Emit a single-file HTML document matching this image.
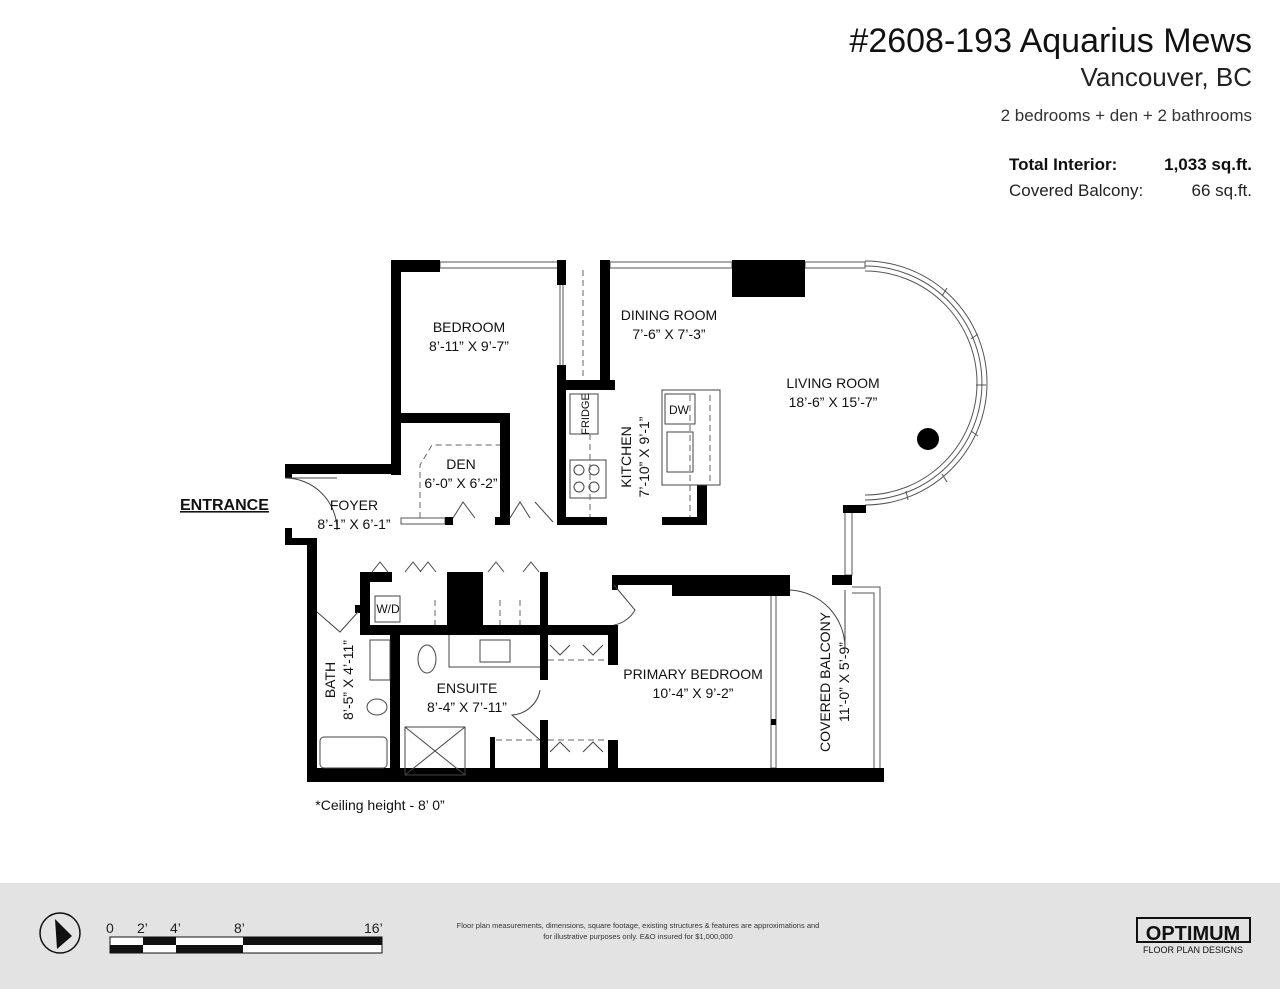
<!DOCTYPE html>
<html><head><meta charset="utf-8"><style>
html,body{margin:0;padding:0;background:#fff;}
svg{display:block;font-family:"Liberation Sans",sans-serif;}
</style></head><body>
<svg width="1280" height="989" viewBox="0 0 1280 989" xmlns="http://www.w3.org/2000/svg">
<rect width="1280" height="989" fill="#fff"/>
<!-- header -->
<g fill="#111" text-anchor="end">
<text x="1252" y="52" font-size="34">#2608-193 Aquarius Mews</text>
<text x="1252" y="86" font-size="26" fill="#222">Vancouver, BC</text>
<text x="1252" y="121" font-size="17" fill="#333">2 bedrooms + den + 2 bathrooms</text>
<text x="1252" y="170" font-size="17" font-weight="bold">1,033 sq.ft.</text>
<text x="1252" y="196" font-size="17" fill="#222">66 sq.ft.</text>
</g>
<text x="1009" y="170" font-size="17" font-weight="bold" fill="#111">Total Interior:</text>
<text x="1009" y="196" font-size="17" fill="#222">Covered Balcony:</text>

<!-- windows (thin double lines) -->
<g fill="none" stroke="#555" stroke-width="1">
<rect x="440" y="262" width="118" height="6"/>
<rect x="610" y="262" width="122" height="6"/>
<rect x="805" y="262" width="60" height="6"/>
<path d="M865,261 A122,122 0 0 1 865,505"/>
<path d="M865,266 A117,117 0 0 1 865,500"/>
<path d="M865,271 A112,112 0 0 1 865,495"/>
<rect x="845" y="512" width="7" height="63"/>
<path d="M852,587 H880 V770"/>
<path d="M852,593 H874 V770"/>
<rect x="771" y="595" width="5" height="173"/>
<rect x="401" y="518" width="44" height="6"/>
<path d="M560,285 V365 M563,285 V365"/>
</g>
<g stroke="#555" stroke-width="1">
<path d="M947,288 L942,296 M978,334 L971,339 M986,385 L976,385 M978,436 L971,431 M947,482 L942,474 M908,500 L906,491"/>
</g>
<!-- walls -->
<g fill="#000">
<rect x="391" y="260" width="49" height="12"/>
<rect x="391" y="260" width="10" height="215"/>
<rect x="285" y="464" width="116" height="10"/>
<rect x="285" y="464" width="7" height="14"/>
<rect x="285" y="528" width="7" height="17"/>
<rect x="285" y="538" width="32" height="7"/>
<rect x="307" y="538" width="10" height="244"/>
<rect x="307" y="768" width="577" height="14"/>
<rect x="401" y="413" width="109" height="10"/>
<rect x="500" y="413" width="10" height="112"/>
<rect x="445" y="517" width="8" height="8"/>
<rect x="495" y="517" width="15" height="8"/>
<rect x="557" y="260" width="9" height="25"/>
<rect x="557" y="365" width="9" height="160"/>
<rect x="600" y="260" width="10" height="130"/>
<rect x="557" y="380" width="58" height="10"/>
<rect x="557" y="517" width="50" height="8"/>
<rect x="732" y="260" width="73" height="37"/>
<rect x="662" y="517" width="45" height="8"/>
<rect x="697" y="485" width="10" height="40"/>
<rect x="843" y="505" width="23" height="8"/>
<rect x="832" y="575" width="20" height="10"/>
<rect x="360" y="572" width="32" height="10"/>
<rect x="360" y="572" width="10" height="63"/>
<rect x="447" y="572" width="36" height="56"/>
<rect x="360" y="625" width="258" height="10"/>
<rect x="540" y="572" width="8" height="63"/>
<rect x="612" y="575" width="178" height="10"/>
<rect x="672" y="575" width="118" height="21"/>
<rect x="612" y="575" width="6" height="15"/>
<rect x="608" y="625" width="10" height="40"/>
<rect x="608" y="740" width="10" height="30"/>
<rect x="390" y="635" width="10" height="147"/>
<rect x="540" y="635" width="8" height="45"/>
<rect x="540" y="720" width="8" height="62"/>
<rect x="490" y="737" width="5" height="35"/>
<rect x="355" y="605" width="5" height="8"/>
<circle cx="928" cy="439" r="11"/>
<rect x="771" y="719" width="5" height="6"/>
</g>
<!-- fixtures -->
<g fill="none" stroke="#444" stroke-width="1">
<rect x="662" y="390" width="58" height="95"/>
<rect x="665" y="394" width="30" height="30"/>
<rect x="667" y="432" width="26" height="40"/>
<rect x="570" y="394" width="28" height="40"/>
<rect x="570" y="460" width="36" height="38"/>
<circle cx="579" cy="470" r="5"/><circle cx="594" cy="470" r="5"/>
<circle cx="579" cy="487" r="5"/><circle cx="594" cy="487" r="5"/>
<rect x="375" y="596" width="25" height="26"/>
<rect x="370" y="640" width="20" height="40"/>
<rect x="480" y="640" width="30" height="22"/>
<rect x="405" y="727" width="60" height="48"/>
<path d="M405,727 L465,775 M465,727 L405,775"/>
<rect x="320" y="737" width="67" height="31" rx="4"/>
<ellipse cx="427" cy="659" rx="9" ry="14"/>
<ellipse cx="377" cy="707" rx="10" ry="8"/>
<path d="M449,635 V667 H540"/>
<path d="M285,478 A52,52 0 0 1 337,530"/>
<path d="M285,478 H337"/>
<path d="M845,590 V648 A58,58 0 0 0 790,590"/>
<path d="M540,690 A30,30 0 0 1 512,715 L540,740"/>
<path d="M614,585 L635,610 A30,30 0 0 1 614,625"/>
<path d="M317,612 L340,632 L358,612"/>
<path d="M453,518 L463,502 L475,518 M510,518 L520,502 L530,518 M535,502 L553,522"/>
<path d="M372,572 L380,562 L388,572 M405,572 L413,562 L421,572 M420,572 L428,562 L436,572 M488,572 L496,562 L504,572 M523,572 L531,562 L539,572"/>
<path d="M550,645 L560,655 L570,645 M583,645 L593,655 L603,645 M550,752 L560,742 L570,752 M583,752 L593,742 L603,752"/>
</g>
<g fill="none" stroke="#666" stroke-width="1" stroke-dasharray="6,4">
<path d="M583,270 V380 M590,434 V517 M690,395 V517 M710,395 V485 M420,518 V465 L432,445 H500 M548,660 H608 M548,740 H608 M496,740 H540 M435,600 V625 M520,600 V625 M500,600 V625"/>
</g>
<!-- labels -->
<g font-size="14" fill="#111" text-anchor="middle">
<text x="469" y="332">BEDROOM</text><text x="469" y="351">8’-11” X 9’-7”</text>
<text x="669" y="320">DINING ROOM</text><text x="669" y="339">7’-6” X 7’-3”</text>
<text x="833" y="388">LIVING ROOM</text><text x="833" y="407">18’-6” X 15’-7”</text>
<text x="461" y="469">DEN</text><text x="461" y="488">6’-0” X 6’-2”</text>
<text x="354" y="510">FOYER</text><text x="354" y="529">8’-1” X 6’-1”</text>
<text x="467" y="693">ENSUITE</text><text x="467" y="712">8’-4” X 7’-11”</text>
<text x="693" y="679">PRIMARY BEDROOM</text><text x="693" y="698">10’-4” X 9’-2”</text>
<text x="380" y="810">*Ceiling height - 8’ 0”</text>
<text x="679" y="414" font-size="12">DW</text>
<text x="388" y="613" font-size="12">W/D</text>
<text transform="translate(631,457) rotate(-90)">KITCHEN</text>
<text transform="translate(649,457) rotate(-90)">7’-10” X 9’-1”</text>
<text transform="translate(335,680) rotate(-90)">BATH</text>
<text transform="translate(353,680) rotate(-90)">8’-5” X 4’-11”</text>
<text transform="translate(830,682) rotate(-90)">COVERED BALCONY</text>
<text transform="translate(849,682) rotate(-90)">11’-0” X 5’-9”</text>
<text transform="translate(589,414) rotate(-90)" font-size="11">FRIDGE</text>
</g>
<text x="180" y="510" font-size="16" font-weight="bold" fill="#111" text-decoration="underline">ENTRANCE</text>
<!-- footer -->
<rect x="0" y="883" width="1280" height="106" fill="#e3e3e3"/>
<circle cx="60" cy="933" r="20" fill="none" stroke="#111" stroke-width="1.5"/>
<path d="M55,919 L72,936 L57,949 Z" fill="#111"/>
<g font-size="14" fill="#222">
<text x="106" y="933">0</text><text x="137" y="933">2’</text><text x="170" y="933">4’</text><text x="234" y="933">8’</text><text x="364" y="933">16’</text>
</g>
<rect x="110" y="937" width="272" height="16" fill="#fff" stroke="#111"/>
<rect x="143" y="937" width="33" height="8" fill="#111"/>
<rect x="243" y="937" width="139" height="8" fill="#111"/>
<rect x="110" y="945" width="33" height="8" fill="#111"/>
<rect x="176" y="945" width="67" height="8" fill="#111"/>
<g font-size="7.5" fill="#333" text-anchor="middle">
<text x="638" y="928">Floor plan measurements, dimensions, square footage, existing structures &amp; features are approximations and</text>
<text x="638" y="939">for illustrative purposes only.  E&amp;O insured for $1,000,000</text>
</g>
<rect x="1137" y="918" width="113" height="24" fill="none" stroke="#111" stroke-width="2"/>
<text x="1193" y="940" font-size="20" font-weight="bold" text-anchor="middle" fill="#111">OPTIMUM</text>
<text x="1193" y="953" font-size="9" text-anchor="middle" fill="#111">FLOOR PLAN DESIGNS</text>
</svg>
</body></html>
